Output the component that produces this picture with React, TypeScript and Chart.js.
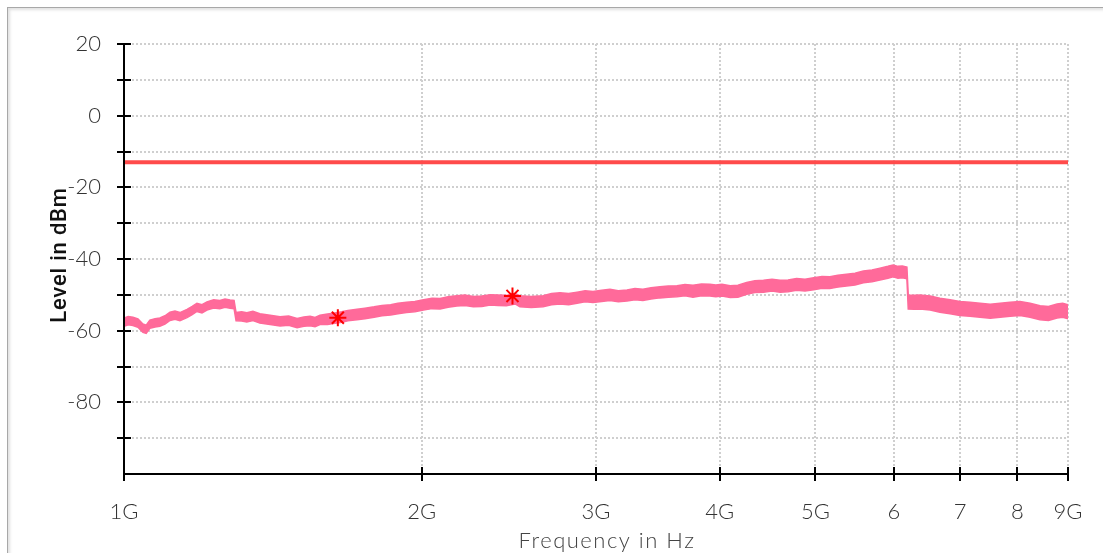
import { useEffect, useRef } from "react";
import { Chart, registerables } from "chart.js";

Chart.register(...registerables);

// ---------- data ----------
const xTickValues = [1, 2, 3, 4, 5, 6, 7, 8, 9];
const xTickLabels = ["1G", "2G", "3G", "4G", "5G", "6", "7", "8", "9G"];
const yTickValues = [20, 10, 0, -10, -20, -30, -40, -50, -60, -70, -80, -90, -100];
const yTickLabels = ["20", "", "0", "", "-20", "", "-40", "", "-60", "", "-80", "", ""];

const limitFreqGHz = [1, 9];
const limitLevelDbm = [-13, -13];

const markerFreqGHz = [1.645, 2.47];
const markerLevelDbm = [-56.4, -50.3];

const traceFreqGHz = [
  1.0, 1.01, 1.021, 1.033, 1.045, 1.053, 1.062, 1.075, 1.087, 1.1,
  1.113, 1.126, 1.139, 1.158, 1.172, 1.185, 1.199, 1.213, 1.232, 1.25,
  1.265, 1.28, 1.292, 1.298, 1.315, 1.331, 1.35, 1.372, 1.405, 1.438,
  1.467, 1.496, 1.52, 1.542, 1.56, 1.578, 1.606, 1.634, 1.66, 1.684,
  1.72, 1.752, 1.79, 1.823, 1.86, 1.892, 1.93, 1.968, 2.008, 2.048,
  2.087, 2.126, 2.17, 2.211, 2.255, 2.3, 2.345, 2.388, 2.435, 2.485,
  2.513, 2.58, 2.652, 2.705, 2.759, 2.815, 2.871, 2.925, 2.979, 3.04,
  3.099, 3.16, 3.224, 3.285, 3.346, 3.41, 3.481, 3.55, 3.622, 3.69,
  3.76, 3.835, 3.911, 3.965, 4.022, 4.1, 4.174, 4.26, 4.342, 4.43,
  4.519, 4.605, 4.691, 4.785, 4.88, 4.98, 5.077, 5.17, 5.268, 5.375,
  5.482, 5.59, 5.703, 5.81, 5.919, 5.99, 6.058, 6.12, 6.186, 6.205,
  6.29, 6.376, 6.53, 6.68, 6.84, 6.998, 7.165, 7.334, 7.51, 7.684,
  7.865, 8.05, 8.24, 8.433, 8.6, 8.774, 8.89, 9.0,
];
const traceLevelDbm = [
  -57.6, -57.2, -57.4, -57.9, -59.3, -59.6, -58.2, -57.8, -57.6, -57.0,
  -56.0, -55.7, -56.1, -55.2, -54.4, -53.5, -53.9, -53.1, -52.5, -52.7,
  -52.3, -52.6, -52.7, -56.1, -56.0, -56.3, -55.9, -56.6, -57.0, -57.4,
  -57.2, -57.9, -57.5, -57.3, -57.6, -57.0, -56.8, -56.5, -56.2, -55.8,
  -55.5, -55.2, -54.8, -54.4, -54.2, -53.8, -53.5, -53.3, -52.8, -52.4,
  -52.5, -52.0, -51.7, -51.5, -51.9, -51.8, -51.4, -51.5, -51.6, -51.1,
  -51.8, -52.0, -51.8, -51.2, -51.0, -51.2, -50.8, -50.4, -50.6, -50.3,
  -50.0, -50.4, -50.2, -49.8, -50.0, -49.6, -49.3, -49.1, -49.0, -48.7,
  -49.0, -48.6, -48.7, -48.9, -48.7, -49.1, -49.0, -48.2, -47.7, -47.6,
  -47.3, -47.6, -47.5, -47.1, -47.3, -46.9, -46.5, -46.6, -46.2, -45.9,
  -45.6, -45.0, -44.7, -44.2, -43.7, -43.3, -43.7, -43.6, -43.9, -52.0,
  -52.1, -52.0, -52.3, -52.9, -53.3, -53.8, -54.0, -54.3, -54.6, -54.3,
  -54.0, -53.8, -54.3, -55.0, -55.2, -54.5, -54.3, -54.7,
];
// visible thickness of the noisy band (dB), read per point
const traceSpanDb = [
  2.3, 2.3, 2.3, 2.3, 2.3, 2.3, 2.3, 2.3, 2.3, 2.3,
  2.3, 2.3, 2.3, 2.3, 2.3, 2.3, 2.3, 2.3, 2.3, 2.3,
  2.3, 2.3, 2.3, 2.3, 2.6, 2.6, 2.6, 2.6, 2.6, 2.6,
  2.6, 2.6, 2.6, 2.6, 2.6, 2.6, 2.9, 2.9, 2.9, 2.9,
  2.9, 2.9, 2.9, 2.9, 2.9, 2.9, 2.9, 2.9, 2.9, 2.9,
  2.9, 2.9, 2.9, 2.9, 2.9, 2.9, 2.9, 2.9, 2.9, 2.9,
  3.1, 3.1, 3.1, 3.1, 3.1, 3.1, 3.1, 3.1, 3.1, 3.1,
  3.1, 3.1, 3.1, 3.1, 3.1, 3.1, 3.1, 3.1, 3.1, 3.1,
  3.3, 3.3, 3.3, 3.3, 3.3, 3.3, 3.3, 3.3, 3.3, 3.3,
  3.3, 3.3, 3.3, 3.3, 3.3, 3.3, 3.3, 3.3, 3.3, 3.3,
  3.3, 3.3, 3.3, 3.3, 3.3, 3.3, 3.3, 3.3, 3.3, 3.9,
  3.9, 3.9, 3.9, 3.9, 3.9, 3.9, 3.9, 3.9, 3.9, 3.9,
  3.9, 3.9, 3.9, 3.9, 3.9, 3.9, 3.9, 3.9,
];

const TRACE_COLOR = "#ff6a9a";

const overlayPlugin = {
  id: "overlay",
  beforeDatasetsDraw(chart: any) {
    const { ctx, chartArea: a, scales } = chart;
    const x = scales.x;
    const y = scales.y;
    ctx.save();
    ctx.strokeStyle = "#cfcfcf";
    ctx.lineWidth = 2;
    ctx.setLineDash([2, 2]);
    for (const v of yTickValues) {
      if (v <= -100) continue;
      const py = Math.round(y.getPixelForValue(v));
      ctx.beginPath();
      ctx.moveTo(a.left, py);
      ctx.lineTo(a.right, py);
      ctx.stroke();
    }
    for (const v of xTickValues) {
      if (v === 1) continue;
      const px = Math.round(x.getPixelForValue(v));
      ctx.beginPath();
      ctx.moveTo(px, a.top);
      ctx.lineTo(px, a.bottom);
      ctx.stroke();
    }
    ctx.restore();
  },
  afterDatasetsDraw(chart: any) {
    const { ctx, chartArea: a, scales } = chart;
    const x = scales.x;
    const y = scales.y;
    ctx.save();
    ctx.strokeStyle = "#000";
    ctx.lineWidth = 2;
    ctx.beginPath();
    ctx.moveTo(a.left, a.top - 1);
    ctx.lineTo(a.left, a.bottom + 7);
    ctx.moveTo(a.left - 1, a.bottom);
    ctx.lineTo(a.right, a.bottom);
    for (const v of yTickValues) {
      if (v <= -100) continue;
      const py = Math.round(y.getPixelForValue(v));
      ctx.moveTo(a.left - 7, py);
      ctx.lineTo(a.left + 7, py);
    }
    for (const v of xTickValues) {
      if (v === 1) continue;
      const px = Math.round(x.getPixelForValue(v));
      ctx.moveTo(px, a.bottom - 7);
      ctx.lineTo(px, a.bottom + 7);
    }
    ctx.stroke();

    // axis titles
    ctx.fillStyle = "#444";
    ctx.font = "300 22px Lato, 'Open Sans', sans-serif";
    (ctx as any).letterSpacing = "1.5px";
    ctx.textAlign = "center";
    ctx.textBaseline = "middle";
    ctx.fillText("Frequency in Hz", (a.left + a.right) / 2 + 11, 541);
    (ctx as any).letterSpacing = "0px";

    ctx.save();
    ctx.translate(60, 255);
    ctx.rotate(-Math.PI / 2);
    ctx.fillStyle = "#111";
    ctx.font = "500 22px Roboto, 'Liberation Sans', sans-serif";
    (ctx as any).letterSpacing = "0.8px";
    ctx.fillText("Level in dBm", 0, 0);
    ctx.restore();
    ctx.restore();
  },
};

export default function App() {
  const canvasRef = useRef<HTMLCanvasElement | null>(null);

  useEffect(() => {
    const canvas = canvasRef.current;
    if (!canvas) return;
    const tickFont = { family: "Lato, 'Open Sans', sans-serif", size: 22, weight: "300" as any };
    const upper = traceFreqGHz.map((f, i) => ({ x: f, y: traceLevelDbm[i] + traceSpanDb[i] / 2 }));
    const lower = traceFreqGHz.map((f, i) => ({ x: f, y: traceLevelDbm[i] - traceSpanDb[i] / 2 }));
    const chart = new Chart(canvas, {
      type: "line",
      data: {
        datasets: [
          {
            label: "Markers",
            data: markerFreqGHz.map((f, i) => ({ x: f, y: markerLevelDbm[i] })),
            showLine: false,
            pointStyle: "star",
            pointRadius: 8.5,
            pointBorderColor: "#ff0000",
            pointBackgroundColor: "#ff0000",
            pointBorderWidth: 2,
          },
          {
            label: "Trace upper",
            data: upper,
            borderColor: TRACE_COLOR,
            backgroundColor: TRACE_COLOR,
            borderWidth: 1.5,
            pointRadius: 0,
            tension: 0,
            fill: "+1",
          },
          {
            label: "Trace lower",
            data: lower,
            borderColor: TRACE_COLOR,
            backgroundColor: TRACE_COLOR,
            borderWidth: 1.5,
            pointRadius: 0,
            tension: 0,
            fill: false,
          },
          {
            label: "Limit",
            data: limitFreqGHz.map((f, i) => ({ x: f, y: limitLevelDbm[i] })),
            borderColor: "#ff4b4b",
            borderWidth: 4,
            pointRadius: 0,
          },
        ],
      },
      options: {
        responsive: false,
        animation: false,
        devicePixelRatio: 1,
        layout: { padding: { top: 44, right: 35, left: 0, bottom: 0 } },
        plugins: { legend: { display: false }, tooltip: { enabled: false } },
        scales: {
          x: {
            type: "logarithmic",
            min: 1,
            max: 9,
            grid: { display: false },
            border: { display: false },
            afterBuildTicks: (s: any) => {
              s.ticks = xTickValues.map((v) => ({ value: v }));
            },
            afterFit: (s: any) => {
              s.height = 79;
            },
            ticks: {
              autoSkip: false,
              maxRotation: 0,
              padding: 17,
              color: "#333",
              font: tickFont,
              callback: (_v: any, i: number) => xTickLabels[i],
            },
          },
          y: {
            type: "linear",
            min: -100,
            max: 20,
            grid: { display: false },
            border: { display: false },
            afterBuildTicks: (s: any) => {
              s.ticks = yTickValues.map((v) => ({ value: v }));
            },
            afterFit: (s: any) => {
              s.width = 124;
            },
            ticks: {
              autoSkip: false,
              padding: 15,
              color: "#333",
              font: tickFont,
              callback: (_v: any, i: number) => yTickLabels[i],
            },
          },
        },
      },
      plugins: [overlayPlugin],
    });
    return () => chart.destroy();
  }, []);

  return (
    <div style={{ position: "fixed", left: 0, top: 0, width: 1103, height: 553, overflow: "hidden", background: "#fff" }}>
      <div
        style={{
          position: "absolute",
          left: 7,
          top: 7,
          width: 1300,
          height: 800,
          borderTop: "1px solid #a8a8a8",
          borderLeft: "1px solid #a8a8a8",
          boxShadow: "inset 2px 2px 3px rgba(0,0,0,0.12)",
        }}
      />
      <canvas
        ref={canvasRef}
        width={1103}
        height={553}
        style={{ position: "absolute", left: 0, top: 0, width: 1103, height: 553 }}
      />
    </div>
  );
}
